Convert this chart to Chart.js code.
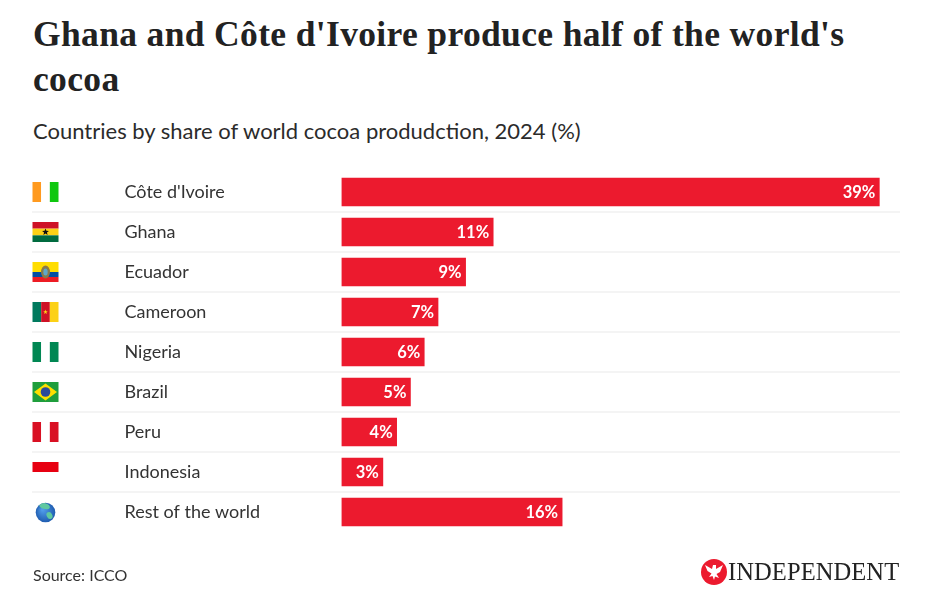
<!DOCTYPE html>
<html>
<head>
<meta charset="utf-8">
<title>Cocoa production</title>
<script src="https://cdn.jsdelivr.net/npm/chart.js@4"></script>
<style>
    html, body { margin: 0; padding: 0; background: #fff; }
    body { width: 936px; height: 608px; position: relative; overflow: hidden; color: #222; }
    #chart { position: absolute; left: 0; top: 0; }
    .headline {
        position: absolute; left: 33px; top: 12px; width: 860px; margin: 0;
        font: 700 35.5px/45px "Liberation Serif", serif; letter-spacing: 0.35px;
    }
    .standfirst {
        position: absolute; left: 33px; top: 116px; margin: 0;
        font: 400 22px/30px Lato, sans-serif; color: #2b2b2b;
    }
    .source {
        position: absolute; left: 33px; top: 564px;
        font: 400 16px/22px Lato, sans-serif; color: #333;
    }
    .brand { position: absolute; left: 701px; top: 559px; width: 26px; height: 26px; }
    .wordmark {
        position: absolute; left: 728px; top: 558px;
        font: 400 24.5px/28px "Liberation Serif", serif; color: #222; letter-spacing: 0.1px;
    }
</style>
</head>
<body>
<h1 class="headline">Ghana and Côte d'Ivoire produce half of the world's cocoa</h1>
<p class="standfirst">Countries by share of world cocoa produdction, 2024 (%)</p>
<canvas id="chart" width="936" height="608"></canvas>
<div class="source">Source: ICCO</div>
<svg class="brand" viewBox="0 0 26 26">
    <circle cx="13" cy="13" r="13" fill="#ec1a2e"/>
    <path d="M4 6 L11 10 L12 6 L15 6 L15 10 L22 6 L19 13 L15.5 15 L18 19 L14 17.5 L13 21 L11.5 17 L8 18 L10.5 14.5 L6.5 12 Z" fill="#fff"/>
</svg>
<div class="wordmark">INDEPENDENT</div>

<script>
// Cocoa share bar chart: one red bar per country, flags in the left gutter.

const COUNTRIES = ["Côte d'Ivoire", 'Ghana', 'Ecuador', 'Cameroon', 'Nigeria', 'Brazil', 'Peru', 'Indonesia', 'Rest of the world'];
const SHARES = [39, 11, 9, 7, 6, 5, 4, 3, 16];

const BAR_RED = '#ec1a2e';
const RULE_GREY = '#f0f0f0';

// ── flags ─────────────────────────────────────────────────────────────────────
function vStripes(ctx, x, y, w, h, colors) {
    const sw = w / colors.length;
    colors.forEach((c, i) => { ctx.fillStyle = c; ctx.fillRect(x + i * sw, y, sw, h); });
}
function hStripes(ctx, x, y, w, h, colors) {
    const sh = h / colors.length;
    colors.forEach((c, i) => { ctx.fillStyle = c; ctx.fillRect(x, y + i * sh, w, sh); });
}
function star(ctx, cx, cy, r, color) {
    ctx.fillStyle = color;
    ctx.beginPath();
    for (let i = 0; i < 10; i++) {
        const rad = i % 2 ? r * 0.42 : r;
        const a = -Math.PI / 2 + i * Math.PI / 5;
        ctx.lineTo(cx + rad * Math.cos(a), cy + rad * Math.sin(a));
    }
    ctx.closePath();
    ctx.fill();
}

const FLAG_PAINTERS = {
    "Côte d'Ivoire": (ctx, x, y, w, h) => vStripes(ctx, x, y, w, h, ['#ff9a1f', '#fff', '#0fc70f']),
    'Ghana': (ctx, x, y, w, h) => {
        hStripes(ctx, x, y, w, h, ['#ce1126', '#fcd116', '#006b3f']);
        star(ctx, x + w / 2, y + h / 2, 3.6, '#111');
    },
    'Ecuador': (ctx, x, y, w, h) => {
        ctx.fillStyle = '#ffdd00'; ctx.fillRect(x, y, w, h / 2);
        ctx.fillStyle = '#034ea2'; ctx.fillRect(x, y + h / 2, w, h / 4);
        ctx.fillStyle = '#ed1c24'; ctx.fillRect(x, y + h * 0.75, w, h / 4);
        ctx.fillStyle = '#8a7a4a';
        ctx.beginPath(); ctx.ellipse(x + w / 2, y + h / 2, 4.5, 6.5, 0, 0, Math.PI * 2); ctx.fill();
        ctx.fillStyle = '#5fa8c8';
        ctx.beginPath(); ctx.ellipse(x + w / 2, y + h / 2, 2.2, 3.6, 0, 0, Math.PI * 2); ctx.fill();
    },
    'Cameroon': (ctx, x, y, w, h) => {
        vStripes(ctx, x, y, w, h, ['#007a5e', '#ce1126', '#fcd116']);
        star(ctx, x + w / 2, y + h / 2, 2.4, '#fcd116');
    },
    'Nigeria': (ctx, x, y, w, h) => vStripes(ctx, x, y, w, h, ['#008753', '#fff', '#008753']),
    'Brazil': (ctx, x, y, w, h) => {
        ctx.fillStyle = '#1f9e3c'; ctx.fillRect(x, y, w, h);
        ctx.fillStyle = '#fedf00';
        ctx.beginPath();
        ctx.moveTo(x + 1.5, y + h / 2); ctx.lineTo(x + w / 2, y + 1.5);
        ctx.lineTo(x + w - 1.5, y + h / 2); ctx.lineTo(x + w / 2, y + h - 1.5);
        ctx.closePath(); ctx.fill();
        ctx.fillStyle = '#2a4a9a';
        ctx.beginPath(); ctx.arc(x + w / 2, y + h / 2, 4.8, 0, Math.PI * 2); ctx.fill();
    },
    'Peru': (ctx, x, y, w, h) => vStripes(ctx, x, y, w, h, ['#d91023', '#fff', '#d91023']),
    'Indonesia': (ctx, x, y, w, h) => hStripes(ctx, x, y, w, h, ['#e70011', '#fff']),
    'Rest of the world': (ctx, x, y, w, h) => {
        const cx = x + w / 2, cy = y + h / 2 + 0.5;
        const sea = ctx.createRadialGradient(cx - 3, cy - 3, 1, cx, cy, 10);
        sea.addColorStop(0, '#4f9be8');
        sea.addColorStop(1, '#1f5cb0');
        ctx.fillStyle = sea;
        ctx.beginPath(); ctx.arc(cx, cy, 9.8, 0, Math.PI * 2); ctx.fill();
        ctx.save();
        ctx.clip();
        ctx.fillStyle = '#5fc8a0';
        ctx.beginPath(); ctx.ellipse(cx - 1, cy - 6.5, 5.5, 3, 0.3, 0, Math.PI * 2); ctx.fill();
        ctx.beginPath(); ctx.ellipse(cx + 4, cy + 3, 2.8, 3.6, -0.5, 0, Math.PI * 2); ctx.fill();
        ctx.restore();
    }
};

// ── plugin: row rules, flags and value labels ─────────────────────────────────
const rowDecor = {
    id: 'rowDecor',
    beforeDatasetsDraw(chart) {
        const { ctx, scales: { y }, chartArea } = chart;
        ctx.save();
        ctx.strokeStyle = RULE_GREY;
        ctx.lineWidth = 1.5;
        COUNTRIES.slice(0, -1).forEach((_, i) => {
            const ry = (y.getPixelForTick(i) + y.getPixelForTick(i + 1)) / 2;
            ctx.beginPath();
            ctx.moveTo(32, ry);
            ctx.lineTo(chartArea.right, ry);
            ctx.stroke();
        });
        COUNTRIES.forEach((name, i) => {
            const cy = y.getPixelForTick(i);
            FLAG_PAINTERS[name](ctx, 32.5, cy - 10, 26, 20);
        });
        ctx.restore();
    },
    afterDatasetsDraw(chart) {
        const { ctx } = chart;
        ctx.save();
        ctx.fillStyle = '#fff';
        ctx.font = '700 16.5px Lato, sans-serif';
        ctx.textAlign = 'right';
        ctx.textBaseline = 'middle';
        chart.getDatasetMeta(0).data.forEach((bar, i) => {
            ctx.fillText(SHARES[i] + '%', bar.x - 4, bar.y + 0.5);
        });
        ctx.restore();
    }
};

// ── chart ─────────────────────────────────────────────────────────────────────
new Chart(document.getElementById('chart').getContext('2d'), {
    type: 'bar',
    data: {
        labels: COUNTRIES,
        datasets: [{ data: SHARES, backgroundColor: BAR_RED, barThickness: 28, borderWidth: 0 }]
    },
    options: {
        indexAxis: 'y',
        responsive: false,
        animation: false,
        layout: { padding: { left: 124.5, right: 36, top: 172, bottom: 76 } },
        plugins: { legend: { display: false }, tooltip: { enabled: false } },
        scales: {
            x: { display: false, min: 0, max: 40.5 },
            y: {
                afterFit(scale) { scale.width = 217; },
                grid: { display: false },
                border: { display: false },
                ticks: {
                    crossAlign: 'far',
                    padding: 0,
                    color: '#333',
                    font: { family: 'Lato, sans-serif', size: 18 }
                }
            }
        }
    },
    plugins: [rowDecor]
});
</script>
</body>
</html>
